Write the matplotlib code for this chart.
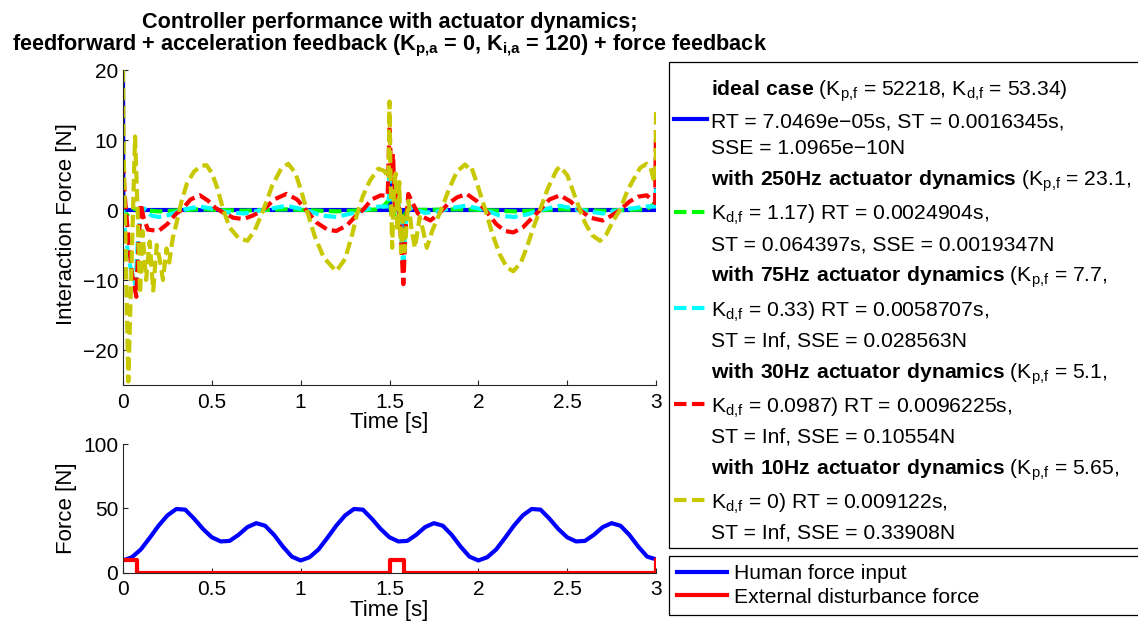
import numpy as np
import matplotlib
matplotlib.use("Agg")
from matplotlib import pyplot as plt

plt.rcParams["font.family"] = ["Liberation Sans", "DejaVu Sans"]
plt.rcParams["mathtext.fontset"] = "custom"
plt.rcParams["mathtext.rm"] = "Liberation Sans"
plt.rcParams["mathtext.bf"] = "Liberation Sans:bold"
plt.rcParams["mathtext.default"] = "regular"

#Interaction force, (time [s], force [N])
ideal = [(0, 20), (0.002, 0), (1.5, 0), (1.501, 5), (1.503, 0), (1.578, 0),
         (1.579, -3), (1.581, 0), (2.998, 0), (3.0, 2.8)]
dyn250 = [(0, 0), (0.01, -1), (0.03, -0.5), (0.06, 0.2), (0.1, 0), (0.2, -0.2),
          (0.43, 0.1), (0.68, -0.1), (0.92, 0.1), (1.2, -0.2), (1.45, 0.1),
          (1.5, 1.5), (1.51, -0.5), (1.56, -0.8), (1.58, -1), (1.6, 0), (1.93, 0.1),
          (2.2, -0.2), (2.46, 0.1), (2.7, -0.1), (2.947, 0.1), (3.0, 1)]
dyn75 = [(0, 0), (0.01, -3), (0.04, -8), (0.07, -10.7), (0.085, -4), (0.1, -0.5),
         (0.12, 0.2), (0.16, -0.8), (0.2, -1), (0.26, -0.7), (0.33, 0), (0.43, 0.5),
         (0.5, 0.2), (0.58, -0.3), (0.68, -0.5), (0.79, 0), (0.92, 0.6), (1.03, 0),
         (1.12, -0.8), (1.2, -1), (1.3, -0.4), (1.35, 0), (1.44, 0.5), (1.495, 0.5),
         (1.5, 4.7), (1.52, 0.5), (1.545, 2), (1.565, -3), (1.578, -8.7), (1.59, -2),
         (1.61, 0.5), (1.65, 0), (1.7, -0.4), (1.77, -0.2), (1.85, 0.3), (1.93, 0.6),
         (2.04, 0), (2.12, -0.8), (2.2, -1), (2.28, -0.6), (2.347, 0), (2.46, 0.6),
         (2.57, 0), (2.7, -0.5), (2.797, 0), (2.947, 0.5), (2.995, 0.5), (3.0, 3)]
dyn30 = [(0, 7), (0.01, 2), (0.03, -4), (0.05, -9), (0.075, -12.4), (0.085, -6),
         (0.1, 0.9), (0.115, -1), (0.14, -2.8), (0.2, -3), (0.25, -2), (0.3, -0.5),
         (0.33, 0), (0.38, 1.5), (0.433, 2.1), (0.48, 1.3), (0.52, 0.3), (0.56, -0.3),
         (0.62, -1.1), (0.677, -1.3), (0.73, -0.8), (0.79, 0), (0.85, 1.5), (0.92, 2.3),
         (0.98, 1.5), (1.03, 0), (1.09, -1.8), (1.15, -2.8), (1.2, -3), (1.26, -2.2),
         (1.32, -0.6), (1.35, 0), (1.4, 1.5), (1.45, 2.1), (1.49, 2), (1.5, 12),
         (1.51, 5), (1.52, 8), (1.53, 0), (1.545, 3), (1.56, -2), (1.578, -10.6),
         (1.59, -3), (1.606, 2.3), (1.63, 1), (1.66, -0.5), (1.69, -1), (1.73, -1.5),
         (1.775, -0.6), (1.83, 0.9), (1.88, 1.8), (1.934, 2.3), (1.99, 1.3), (2.04, 0),
         (2.1, -2), (2.15, -3), (2.197, -3.2), (2.25, -2.5), (2.3, -1.2), (2.347, 0),
         (2.4, 1.5), (2.46, 2.1), (2.52, 1.2), (2.572, 0), (2.63, -1.1), (2.7, -1.5),
         (2.75, -0.8), (2.797, 0), (2.85, 1.2), (2.9, 1.9), (2.947, 2.1), (2.98, 1.4),
         (2.995, 1), (3.0, 11.4)]
dyn10 = [(0, 20), (0.004, 8), (0.03, -24.5), (0.05, -6), (0.068, 10.5), (0.082, 0),
         (0.096, -12), (0.11, -3), (0.13, -10), (0.15, -4.5), (0.17, -11.5), (0.19, -5),
         (0.21, -7.5), (0.225, -10), (0.245, -5.5), (0.26, -7.5), (0.28, -4), (0.3, -2),
         (0.33, 1.3), (0.36, 3.8), (0.4, 5.5), (0.44, 6.3), (0.47, 6.4), (0.5, 5.3),
         (0.53, 3.2), (0.565, 0), (0.6, -2.5), (0.65, -4), (0.7, -4.4), (0.74, -3),
         (0.79, 0), (0.84, 3.5), (0.89, 5.9), (0.93, 6.6), (0.97, 5.3), (1.0, 3),
         (1.034, 0), (1.08, -3.8), (1.13, -6.8), (1.2, -8.75), (1.25, -7), (1.29, -3.5),
         (1.315, -0.8), (1.35, 2), (1.39, 4.2), (1.437, 5.9), (1.47, 5.6), (1.495, 4.5),
         (1.5, 15.5), (1.505, 6), (1.515, -5.4), (1.525, 3), (1.535, 5.2), (1.545, -3),
         (1.555, 4), (1.565, -6), (1.575, -1), (1.585, -5.9), (1.606, 1.3), (1.625, -3),
         (1.643, -5.4), (1.67, -1), (1.69, -3), (1.71, -5.4), (1.74, -3), (1.765, -1.5),
         (1.79, 0), (1.84, 3.3), (1.88, 5.5), (1.925, 6.5), (1.945, 6.0), (1.96, 6.2),
         (2.0, 3.2), (2.04, 0), (2.08, -3.5), (2.12, -6.3), (2.16, -8.2), (2.197, -8.75),
         (2.24, -7.5), (2.272, -5.4), (2.31, -2.5), (2.347, 0), (2.39, 3), (2.44, 5.7),
         (2.46, 6.2), (2.5, 5), (2.553, 1.3), (2.6, -1.8), (2.64, -3.6), (2.685, -4.4),
         (2.72, -3.5), (2.76, -1.5), (2.797, 0), (2.84, 2.8), (2.87, 4.2), (2.91, 6.0),
         (2.947, 6.6), (2.97, 6), (2.99, 4), (2.998, 5), (3.0, 14.3)]

#Human force input every 0.05 s
t_human = np.linspace(0, 3, 61)
f_human = [9.5, 12, 18, 27, 36.5, 44.5, 49.5, 49, 42, 34, 27.5, 24.3, 24.7, 29.4, 35.4, 38.5, 36.5, 29.4, 20.3, 12.5,
           9.5, 12, 18, 27, 36.5, 44.5, 49.5, 49, 42, 34, 27.5, 24.3, 24.7, 29.4, 35.4, 38.5, 36.5, 29.4, 20.3, 12.5,
           9.5, 12, 18, 27, 36.5, 44.5, 49.5, 49, 42, 34, 27.5, 24.3, 24.7, 29.4, 35.4, 38.5, 36.5, 29.4, 20.3, 12.5,
           10.4]
#External disturbance (step signal)
t_dist = [0, 0.08, 0.08, 1.5, 1.5, 1.58, 1.58, 3.0, 3.0]
f_dist = [10, 10, 0, 0, 10, 10, 0, 0, 10]

labels = [
    r"$\mathbf{ideal\ case}$ (K$_{p{,}f}$ = 52218, K$_{d{,}f}$ = 53.34)" + "\nRT = 7.0469e\u221205s, ST = 0.0016345s,\nSSE = 1.0965e\u221210N",
    r"$\mathbf{with\ 250Hz\ actuator\ dynamics}$ (K$_{p{,}f}$ = 23.1," + "\nK$_{d{,}f}$ = 1.17) RT = 0.0024904s,\nST = 0.064397s, SSE = 0.0019347N",
    r"$\mathbf{with\ 75Hz\ actuator\ dynamics}$ (K$_{p{,}f}$ = 7.7," + "\nK$_{d{,}f}$ = 0.33) RT = 0.0058707s,\nST = Inf, SSE = 0.028563N",
    r"$\mathbf{with\ 30Hz\ actuator\ dynamics}$ (K$_{p{,}f}$ = 5.1," + "\nK$_{d{,}f}$ = 0.0987) RT = 0.0096225s,\nST = Inf, SSE = 0.10554N",
    r"$\mathbf{with\ 10Hz\ actuator\ dynamics}$ (K$_{p{,}f}$ = 5.65," + "\nK$_{d{,}f}$ = 0) RT = 0.009122s,\nST = Inf, SSE = 0.33908N",
]
series = [ideal, dyn250, dyn75, dyn30, dyn10]
colors = ["#0000ff", "#00ff00", "#00ffff", "#ff0000", "#c8c800"]

W, H = 1138, 621
fig = plt.figure(figsize=(W / 100, H / 100), dpi=100)
ax1 = fig.add_axes([123 / W, 1 - 385 / H, 533 / W, 315 / H])
ax2 = fig.add_axes([123 / W, 1 - 572.7 / H, 533 / W, 128.7 / H])

lines1 = []
for data, c in zip(series, colors):
    t, v = zip(*data)
    if c == "#0000ff":
        ln, = ax1.plot(t, v, color=c, lw=3)
    else:
        ln, = ax1.plot(t, v, color=c, lw=3, linestyle=(0, (3.0, 1.3)))
    lines1.append(ln)

h1, = ax2.plot(t_human, f_human, color="#0000ff", lw=3)
h2, = ax2.plot(t_dist, f_dist, color="#ff0000", lw=3)

for ax in (ax1, ax2):
    ax.set_xlim(0, 3)
    ax.set_xticks([0, 0.5, 1, 1.5, 2, 2.5, 3])
    ax.set_xticklabels(["0", "0.5", "1", "1.5", "2", "2.5", "3"])
    for s in ("top", "right"):
        ax.spines[s].set_visible(False)
    for s in ("left", "bottom"):
        ax.spines[s].set_linewidth(0.8)
        ax.spines[s].set_color("#262626")
    ax.tick_params(direction="in", length=3.6, width=0.8, color="#262626",
                   labelsize=15, labelcolor="black")
    ax.tick_params(axis="x", pad=5.5)
    ax.tick_params(axis="y", pad=3.5)
    ax.set_xlabel("Time [s]", fontsize=16, va="top")

ax1.set_ylim(-25, 20)
ax1.set_yticks([-20, -10, 0, 10, 20])
ax1.set_yticklabels(["\u221220", "\u221210", "0", "10", "20"])
ax1.set_ylabel("Interaction Force [N]", fontsize=16)
ax1.yaxis.set_label_coords(-0.087, 0.51)
ax1.xaxis.set_label_coords(0.5, -0.086)

ax2.set_ylim(0, 100)
ax2.set_yticks([0, 50, 100])
ax2.set_ylabel("Force [N]", fontsize=16)
ax2.yaxis.set_label_coords(-0.087, 0.5)
ax2.xaxis.set_label_coords(0.5, -0.215)

title = ("Controller performance with actuator dynamics;\n"
         r"feedforward + acceleration feedback (K$_{\mathbf{p{,}a}}$ = 0, K$_{\mathbf{i{,}a}}$ = 120) + force feedback")
fig.text(389.5 / W, 1 - 12 / H, title, ha="center", va="top", fontsize=15.6,
         fontweight="bold", linespacing=0.98)

leg1 = fig.legend(lines1, labels, loc="upper left", bbox_to_anchor=(669 / W, 0, 0.45, 1 - 62 / H),
                  mode="expand", fontsize=15.2, frameon=True, fancybox=False, framealpha=1,
                  edgecolor="black", handlelength=1.56, handletextpad=0.19, borderpad=0.25,
                  labelspacing=0.5, borderaxespad=0, title=" ", title_fontsize=0.6)
leg1.get_frame().set_linewidth(0.9)
for txt in leg1.get_texts():
    txt.set_linespacing(1.53)

leg2 = fig.legend([h1, h2], ["Human force input", "External disturbance force"], loc="upper left",
                  bbox_to_anchor=(669 / W, 0, 0.45, 1 - 556 / H), mode="expand", fontsize=15.2,
                  frameon=True, fancybox=False, framealpha=1, edgecolor="black",
                  handlelength=2.37, handletextpad=0.3, borderpad=0.4, labelspacing=0.2,
                  borderaxespad=0)
leg2.get_frame().set_linewidth(0.9)

fig.savefig("out.png", dpi=100)
